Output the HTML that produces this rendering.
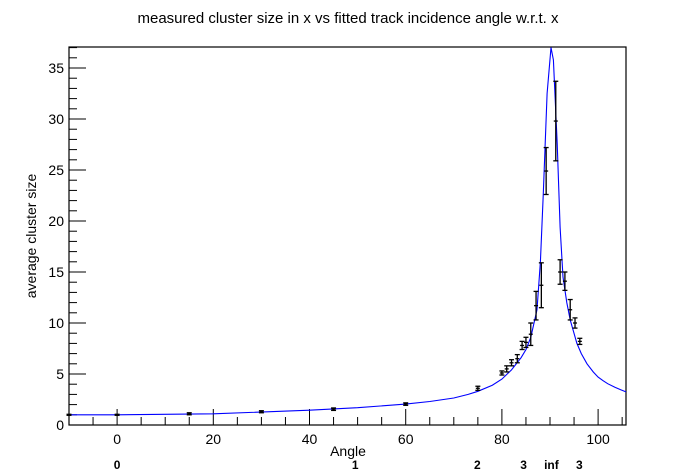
<!DOCTYPE html>
<html><head><meta charset="utf-8">
<style>
html,body{margin:0;padding:0;background:#fff;}
svg{display:block;font-family:"Liberation Sans",Arial,sans-serif;}
</style></head>
<body>
<svg id="chart" width="696" height="472" viewBox="0 0 696 472">
<text x="348" y="23" text-anchor="middle" font-size="15">measured cluster size in x vs fitted track incidence angle w.r.t. x</text>
<g id="axes"></g>
<g id="series"></g>
<text x="348" y="456" text-anchor="middle" font-size="14">Angle</text>
<text transform="translate(36,236) rotate(-90)" text-anchor="middle" font-size="14">average cluster size</text>
</svg>
<script>
const xTicks=[0,20,40,60,80,100];
const yTicks=[0,5,10,15,20,25,30,35];
const ptX=[-10,0,15,30,45,60,75,80,81,82,83.2,84.2,85,86,87.1,88.2,89.2,91.2,92.1,93.1,94.2,95.2,96.2];
const ptY=[1.0,1.0,1.1,1.3,1.55,2.05,3.6,5.1,5.5,6.1,6.5,7.8,8.1,8.9,11.7,13.7,24.9,29.8,15.0,14.1,11.3,10.0,8.2];
const ptErr=[0.05,0.05,0.1,0.1,0.12,0.12,0.2,0.2,0.3,0.3,0.4,0.4,0.5,1.1,1.4,2.2,2.3,3.9,1.2,0.9,1.0,0.5,0.3];
const fitX=[-10,0,20,40,50,60,65,70,73,75,78,80,82,84,85,86,87.3,88,88.6,89.4,90.2,90.7,91.5,92.1,92.7,93.5,94.2,95.6,96.5,97.7,99,100,101,102,103.5,104.7,105.8];
const fitY=[1.0,1.0,1.1,1.45,1.7,2.05,2.3,2.65,3.0,3.3,3.9,4.5,5.4,6.6,7.4,8.6,11.3,16,22.7,32.5,37,35.8,27.6,19.4,14.5,12.0,10.3,8.0,7.0,6.0,5.2,4.7,4.35,4.05,3.7,3.45,3.25];
const secLabels=["0","1","2","3","inf","3"];
const secPos=[0,49.5,74.9,84.5,90.3,96.1];

const L=69,R=626,T=47,B=425;
const xmin=-10,xmax=105.8,ymin=0,ymax=37.06;
const sx=v=>L+(v-xmin)/(xmax-xmin)*(R-L);
const sy=v=>B-(v-ymin)/(ymax-ymin)*(B-T);
const NS="http://www.w3.org/2000/svg";
function mk(tag,attrs,parent){const e=document.createElementNS(NS,tag);for(const k in attrs)e.setAttribute(k,attrs[k]);parent.appendChild(e);return e;}
const ax=document.getElementById('axes'), se=document.getElementById('series');
const frame=mk('rect',{x:L,y:T,width:R-L,height:B-T,fill:'none',stroke:'#000','stroke-width':1.2},ax);


for(let v=-10;v<=105;v+=5){
  const major=(v%20===0);
  const t=mk('line',{x1:sx(v),x2:sx(v),y1:B,y2:B-(major?16:8),stroke:'#000','stroke-width':1},ax);
  
  
}
xTicks.forEach(v=>{
  const t=mk('text',{x:sx(v),y:B+19,'text-anchor':'middle','font-size':14},ax);
  t.textContent=v;
  
  
});
for(let v=0;v<=37;v+=1){
  const major=(v%5===0);
  const t=mk('line',{x1:L,x2:L+(major?17:8),y1:sy(v),y2:sy(v),stroke:'#000','stroke-width':1},ax);
  
  
}
yTicks.forEach(v=>{
  const t=mk('text',{x:L-5,y:sy(v)+5,'text-anchor':'end','font-size':14},ax);
  t.textContent=v;
  
  
});
secLabels.forEach((s,i)=>{
  const t=mk('text',{x:sx(secPos[i]),y:469,'text-anchor':'middle','font-size':12,'font-weight':'bold'},ax);
  t.textContent=s;
  
  
});
const pts=fitX.map((x,i)=>sx(x).toFixed(1)+','+sy(Math.min(fitY[i],ymax)).toFixed(1)).join(' ');
const fit=mk('polyline',{points:pts,fill:'none',stroke:'#0000ff','stroke-width':1.1},se);


ptX.forEach((x,i)=>{
  const g=mk('g',{stroke:'#000','stroke-width':1.3},se);
  
  
  const cx=sx(x),y0=sy(ptY[i]-ptErr[i]),y1=sy(ptY[i]+ptErr[i]),cy=sy(ptY[i]);
  mk('line',{x1:cx,x2:cx,y1:y0,y2:y1},g);
  mk('line',{x1:cx-2.5,x2:cx+2.5,y1:y0,y2:y0},g);
  mk('line',{x1:cx-2.5,x2:cx+2.5,y1:y1,y2:y1},g);
  mk('line',{x1:cx-2,x2:cx+2,y1:cy,y2:cy},g);
});
</script>
</body></html>
